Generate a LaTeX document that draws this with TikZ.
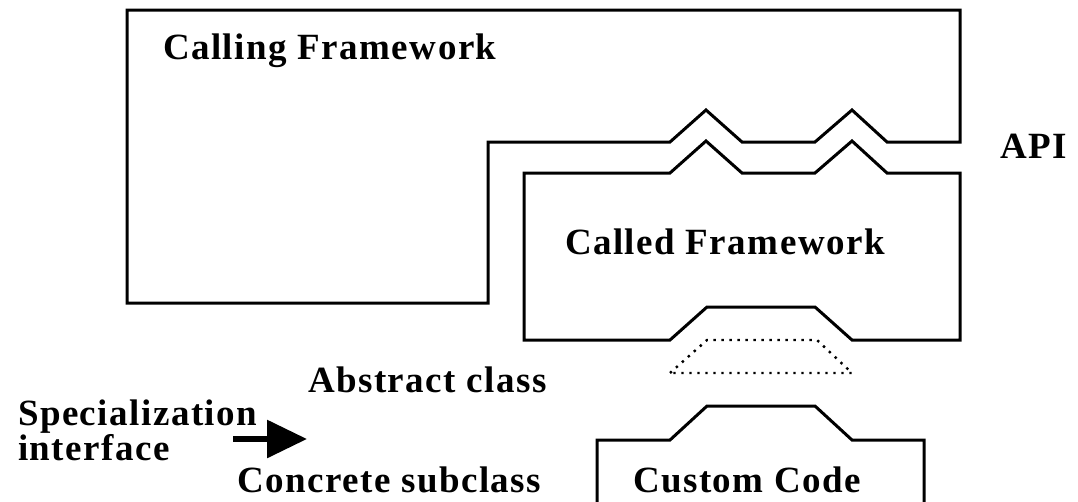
\documentclass[tikz,border=0pt]{standalone}
\usepackage{fontspec}
\setmainfont{Liberation Serif}[LetterSpace=4]
\usetikzlibrary{arrows.meta}
\tikzset{
  outline/.style={draw=black, line width=3pt, line join=miter},
  dotline/.style={draw=black, line width=2.4pt, dash pattern=on 2.4pt off 5.6pt},
  label/.style={anchor=base west, inner sep=0pt, outer sep=0pt,
    font=\fontsize{37}{42}\selectfont\bfseries},
  bigarrow/.style={line width=6pt, -{Triangle[length=40pt, width=37pt]}}
}
\begin{document}
\begin{tikzpicture}[x=1pt, y=-1pt]
\useasboundingbox (0,0) rectangle (1078,501);

% calling framework with its API sockets
\draw[outline] (127,303) -- (127,10) -- (960,10) -- (960,142) -- (887,142)
  -- (852,110) -- (815,142) -- (742,142) -- (706,110) -- (670,142)
  -- (488,142) -- (488,303) -- cycle;

% called framework: API plugs on top, abstract-class socket below
\draw[outline] (524,340) -- (524,173) -- (670,173) -- (706,141) -- (742,173)
  -- (815,173) -- (852,141) -- (887,173) -- (960,173) -- (960,340)
  -- (852,340) -- (815,307) -- (707,307) -- (670,340) -- cycle;

% specialization interface
\draw[dotline] (670,373) -- (707,340) -- (817,340) -- (852,373) -- cycle;

% custom code with its plug
\draw[outline] (597,505) -- (597,440) -- (670,440) -- (707,406) -- (815,406)
  -- (852,440) -- (924,440) -- (924,505);

% labels
\node[label] (calling)  at (163,59)  {Calling Framework};
\node[label] (api)      at (1000,158) {API};
\node[label] (called)   at (565,254) {Called Framework};
\node[label] (abstract) at (308,392) {Abstract class};
\node[label] (spec)     at (18,425)  {Specialization};
\node[label] (iface)    at (18,460)  {interface};
\node[label] (concrete) at (237,492) {Concrete subclass};
\node[label] (custom)   at (633,492) {Custom Code};

% arrow
\coordinate (arrS) at (233,439);
\coordinate (arrE) at (307,439);
\draw[bigarrow] (arrS) -- (arrE);
\end{tikzpicture}
\end{document}
